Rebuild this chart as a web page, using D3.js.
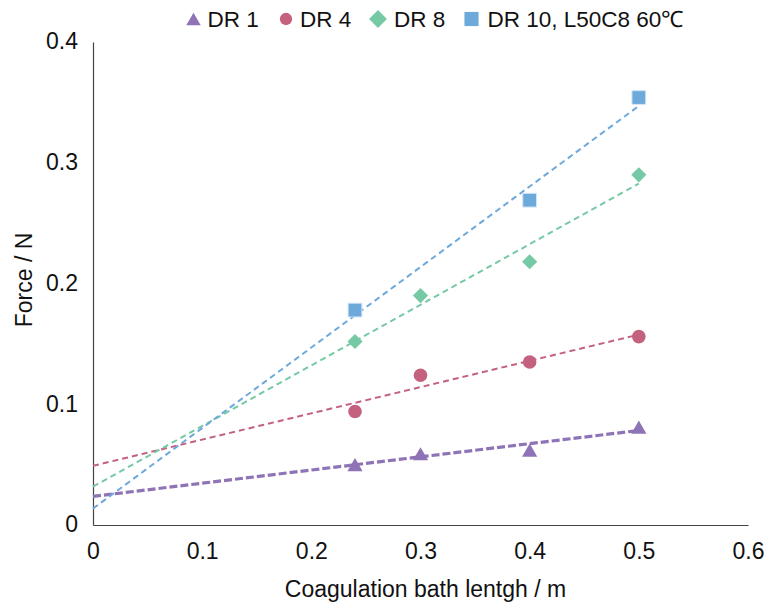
<!DOCTYPE html>
<html><head><meta charset="utf-8">
<script src="https://cdn.jsdelivr.net/npm/d3@7"></script>
<style>body{margin:0;background:#fff}svg{display:block}text{font-family:"Liberation Sans",Arial,sans-serif;fill:#111}</style>
</head><body><svg id="c" width="769" height="608"></svg>
<script>
const seriesNames = ["DR 1", "DR 4", "DR 8", "DR 10, L50C8 60\u2103"];
const dr1X = [0.24, 0.3, 0.4, 0.5];
const dr1Y = [0.050, 0.059, 0.062, 0.081];
const dr4X = [0.24, 0.3, 0.4, 0.5];
const dr4Y = [0.094, 0.124, 0.135, 0.156];
const dr8X = [0.24, 0.3, 0.4, 0.5];
const dr8Y = [0.152, 0.190, 0.218, 0.290];
const dr10X = [0.24, 0.4, 0.5];
const dr10Y = [0.178, 0.269, 0.354];
const xTicks = [0, 0.1, 0.2, 0.3, 0.4, 0.5, 0.6];
const yTicks = [0, 0.1, 0.2, 0.3, 0.4];
const colors = ["#8e73b6", "#c4617f", "#76c9a5", "#6ea9dc"];

// bbox-centred triangle (like spreadsheet markers)
const triBox = {draw(ctx, size) {
  const w = Math.sqrt(size * 4 / Math.sqrt(3));
  const h = w * Math.sqrt(3) / 2;
  ctx.moveTo(0, -h / 2); ctx.lineTo(w / 2, h / 2); ctx.lineTo(-w / 2, h / 2); ctx.closePath();
}};
const diamondSq = {draw(ctx, size) {
  const r = Math.sqrt(size / 2);
  ctx.moveTo(0, -r); ctx.lineTo(r, 0); ctx.lineTo(0, r); ctx.lineTo(-r, 0); ctx.closePath();
}};
const symbols = [triBox, d3.symbolCircle, diamondSq, d3.symbolSquare];

const svg = d3.select("#c");
const x = d3.scaleLinear().domain([0, 0.6]).range([93, 748]);
const y = d3.scaleLinear().domain([0, 0.4]).range([525, 42]);

const series = [
  {name: seriesNames[0], xs: dr1X, ys: dr1Y},
  {name: seriesNames[1], xs: dr4X, ys: dr4Y},
  {name: seriesNames[2], xs: dr8X, ys: dr8Y},
  {name: seriesNames[3], xs: dr10X, ys: dr10Y}
];

function fit(xs, ys) {
  const mx = d3.mean(xs), my = d3.mean(ys);
  let sxy = 0, sxx = 0;
  xs.forEach((v, i) => { sxy += (v - mx) * (ys[i] - my); sxx += (v - mx) * (v - mx); });
  const m = sxy / sxx;
  return {m, b: my - m * mx};
}

const FS = 23;
const fmt = d => d === 0 ? "0" : d3.format(".1f")(d);
// axes
const xAxis = d3.axisBottom(x).tickValues(xTicks).tickSize(0).tickPadding(18).tickFormat(fmt);
const gx = svg.append("g").attr("transform", "translate(0,525)").call(xAxis);
gx.select(".domain").attr("stroke", "#444").attr("stroke-width", 1.2);
gx.selectAll("text").attr("font-size", FS).attr("font-family", "Liberation Sans, Arial, sans-serif").attr("fill", "#111");

const yAxis = d3.axisLeft(y).tickValues(yTicks).tickSize(0).tickPadding(15).tickFormat(fmt);
const gy = svg.append("g").attr("transform", "translate(93,0)").call(yAxis);
gy.select(".domain").attr("stroke", "#444").attr("stroke-width", 1.2);
gy.selectAll("text").attr("font-size", FS).attr("font-family", "Liberation Sans, Arial, sans-serif").attr("fill", "#111").attr("dy", "0.3em");

// trend lines
series.forEach((s, i) => {
  const f = fit(s.xs, s.ys);
  const pts = [[0, f.b], [0.5, f.b + f.m * 0.5]];
  svg.append("path")
    .attr("d", d3.line().x(d => x(d[0])).y(d => y(d[1]))(pts))
    .attr("fill", "none").attr("stroke", colors[i])
    .attr("stroke-width", i === 0 ? 3.2 : 2)
    .attr("stroke-dasharray", i === 0 ? "8,3" : "6,4");
});

// markers
const sizes = [100, 145, 115, 190];
series.forEach((s, i) => {
  svg.append("g").selectAll("path").data(s.xs.map((v, k) => [v, s.ys[k]])).join("path")
    .attr("transform", d => `translate(${x(d[0])},${y(d[1])})`)
    .attr("d", d3.symbol().type(symbols[i]).size(sizes[i]))
    .attr("fill", colors[i])
    .attr("stroke", i === 3 ? "#d4e5f6" : "none").attr("stroke-width", 1);
});

// legend
const legX = [193.5, 286, 378, 471.5];
series.forEach((s, i) => {
  const g = svg.append("g").attr("transform", `translate(${legX[i]},19)`);
  g.append("path").attr("d", d3.symbol().type(symbols[i]).size([90, 120, 160, 200][i])).attr("fill", colors[i]);
});
const legT = [207.5, 300, 394, 487.5];
series.forEach((s, i) => {
  svg.append("text").attr("x", legT[i]).attr("y", 27).attr("font-size", 22.5).text(s.name);
});

// axis titles
svg.append("text").attr("x", 425.5).attr("y", 597).attr("text-anchor", "middle").attr("font-size", FS).text("Coagulation bath lentgh / m");
svg.append("text").attr("transform", "translate(32,280) rotate(-90)").attr("text-anchor", "middle").attr("font-size", FS).text("Force / N");
</script></body></html>
